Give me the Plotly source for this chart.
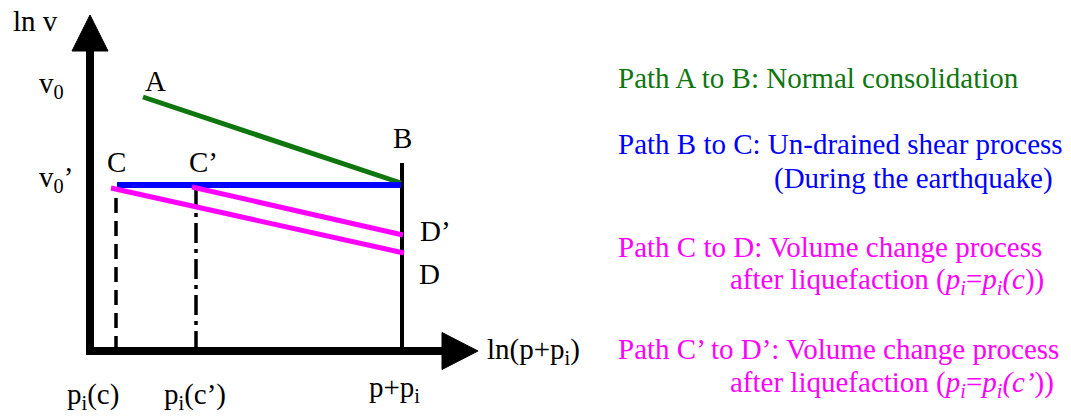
import plotly.graph_objects as go

# Schematic data (axis units: origin at the corner of the ln v / ln(p+pi) axes)
path_ab_x = [53, 311]
path_ab_y = [254, 168]
path_bc_x = [27, 311]
path_bc_y = [166, 166]
path_cd_x = [21, 314]
path_cd_y = [163, 98]
path_c2d2_x = [102, 313]
path_c2d2_y = [164, 116]

pi_c_x = 26       # p_i(c)
pi_c2_x = 106     # p_i(c')
p_tot_x = 312     # p + p_i
b_line_top = 188
v_axis_top = 300
h_axis_end = 352

tick_labels = ["p<sub>i</sub>(c)", "p<sub>i</sub>(c’)", "p+p<sub>i</sub>"]
tick_x = [3, 105, 304]
tick_y = [-45, -45, -38]

legend_texts = [
    "Path A to B: Normal consolidation",
    "Path B to C: Un-drained shear process",
    "(During the earthquake)",
    "Path C to D: Volume change process",
    "after liquefaction (<i>p<sub>i</sub></i>=<i>p<sub>i</sub>(c</i>))",
    "Path C’ to D’: Volume change process",
    "after liquefaction (<i>p<sub>i</sub></i>=<i>p<sub>i</sub>(c’</i>))",
]
legend_x = [526, 526, 682, 526, 638, 526, 638]
legend_y = [273, 207, 173, 104, 70, 2, -33]

GREEN = "#0f760f"
BLUE = "#0000ff"
MAG = "#ff00ff"
BLACK = "#000000"
FONT = "Liberation Serif, Times New Roman, serif"
legend_colors = [GREEN, BLUE, BLUE, MAG, MAG, MAG, MAG]

fig = go.Figure()

def line(x, y, color, width, dash="solid"):
    fig.add_trace(go.Scatter(x=x, y=y, mode="lines",
                             line=dict(color=color, width=width, dash=dash),
                             hoverinfo="skip", showlegend=False))

# axes
line([0, 0], [-4, v_axis_top], BLACK, 8)
line([-4, h_axis_end], [0, 0], BLACK, 8)
# arrowheads
fig.add_trace(go.Scatter(x=[-18, 18, 0, -18], y=[v_axis_top, v_axis_top, 336, v_axis_top],
                         mode="lines", fill="toself", fillcolor=BLACK,
                         line=dict(color=BLACK, width=1), hoverinfo="skip", showlegend=False))
fig.add_trace(go.Scatter(x=[h_axis_end, h_axis_end, 388, h_axis_end], y=[-18.5, 18.5, 0, -18.5],
                         mode="lines", fill="toself", fillcolor=BLACK,
                         line=dict(color=BLACK, width=1), hoverinfo="skip", showlegend=False))

# verticals
line([p_tot_x, p_tot_x], [0, b_line_top], BLACK, 4)
line([pi_c_x, pi_c_x], [0, path_cd_y[0]], BLACK, 3.5, "15px,8px")
line([pi_c2_x, pi_c2_x], [0, path_c2d2_y[0]], BLACK, 3.5, "20px,6px,4px,6px")

# paths
line(path_ab_x, path_ab_y, GREEN, 5)
line(path_bc_x, path_bc_y, BLUE, 6)
line(path_cd_x, path_cd_y, MAG, 5)
line(path_c2d2_x, path_c2d2_y, MAG, 5)

ann = []
def label(text, x, y, xanchor="center", color=BLACK):
    ann.append(dict(text=text, x=x, y=y, xref="x", yref="y", showarrow=False,
                    xanchor=xanchor, yanchor="middle",
                    font=dict(family=FONT, size=29, color=color)))

label("ln v", -55, 330)
label("v<sub>0</sub>", -53, 266, "left")
label("v<sub>0</sub>’", -53, 172, "left")
label("A", 65, 270)
label("B", 312, 213)
label("C", 26, 189)
label("C’", 97, 189, "left")
label("D’", 328, 120, "left")
label("D", 327, 77, "left")
label("ln(p+p<sub>i</sub>)", 395, 0, "left")
for t, x, y in zip(tick_labels, tick_x, tick_y):
    label(t, x, y)
for t, x, y, c in zip(legend_texts, legend_x, legend_y, legend_colors):
    label(t, x, y, "left", c)

fig.update_layout(
    width=1071, height=419, autosize=False,
    margin=dict(l=0, r=0, t=0, b=0),
    paper_bgcolor="white", plot_bgcolor="white",
    xaxis=dict(range=[-90, 981], visible=False, fixedrange=True),
    yaxis=dict(range=[-68, 351], visible=False, fixedrange=True),
    annotations=ann, showlegend=False,
)

fig.write_html("out.html", config={"displayModeBar": False},
               post_script="document.body.style.margin='0';document.body.style.overflow='hidden';")
